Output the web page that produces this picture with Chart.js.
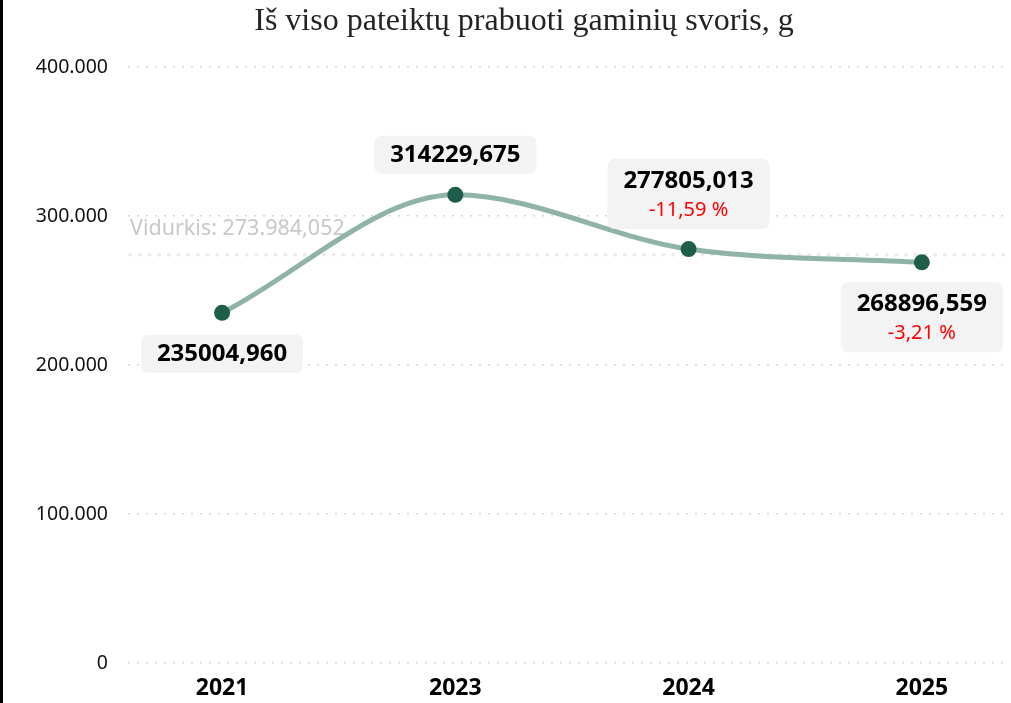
<!DOCTYPE html>
<html lang="lt">
  <head>
    <meta charset="UTF-8" />
    <title>Iš viso pateiktų prabuoti gaminių svoris, g</title>
    <script src="https://cdn.jsdelivr.net/npm/chart.js@4"></script>
    <style>
      body { margin: 0; background: #fff; }
      #wrap { position: relative; width: 1011px; height: 703px; }
      #edge { position: absolute; left: 0; top: 0; width: 3px; height: 703px; background: #000; }
    </style>
  </head>
  <body>
    <div id="wrap">
      <canvas id="myChart"></canvas>
      <div id="edge"></div>
    </div>
    <script>
      const titleText = 'Iš viso pateiktų prabuoti gaminių svoris, g';
      const years = ['2021', '2023', '2024', '2025'];
      const weights = [235004.960, 314229.675, 277805.013, 268896.559];
      const yTicks = [0, 100000, 200000, 300000, 400000];

      const avg = weights.reduce((a, b) => a + b, 0) / weights.length;

      function thousands(v) {
        return String(v).replace(/\B(?=(\d{3})+(?!\d))/g, '.');
      }
      function fmtValue(v) {
        return v.toFixed(3).replace('.', ',');
      }
      function fmtAvg(v) {
        const parts = v.toFixed(3).split('.');
        return thousands(parts[0]) + ',' + parts[1];
      }
      function fmtPct(p) {
        return p.toFixed(2).replace('.', ',') + ' %';
      }

      const FONT = "'Noto Sans', 'Open Sans', sans-serif";

      // title, average line and value boxes
      const extras = {
        id: 'extras',
        beforeDatasetsDraw(chart) {
          const ctx = chart.ctx;
          const area = chart.chartArea;
          const y = chart.scales.y.getPixelForValue(avg);
          ctx.save();
          ctx.strokeStyle = '#ececec';
          ctx.lineWidth = 4;
          ctx.lineCap = 'round';
          ctx.setLineDash([0.1, 9.6]);
          ctx.beginPath();
          ctx.moveTo(area.left + 2, y);
          ctx.lineTo(1008, y);
          ctx.stroke();
          ctx.setLineDash([]);
          ctx.fillStyle = '#c8c8c8';
          ctx.font = '21.5px ' + FONT;
          ctx.textAlign = 'left';
          ctx.textBaseline = 'middle';
          ctx.fillText('Vidurkis: ' + fmtAvg(avg), area.left + 2, y - 26);
          ctx.restore();
        },
        afterDatasetsDraw(chart) {
          const ctx = chart.ctx;
          const pts = chart.getDatasetMeta(0).data;
          const below = [true, false, false, true];
          ctx.save();
          ctx.textAlign = 'center';
          ctx.textBaseline = 'middle';
          pts.forEach((pt, i) => {
            const hasPct = i >= 2;
            const h = hasPct ? 70 : 38;
            const w = 162;
            const cy = below[i] ? pt.y + (hasPct ? 55 : 41) : pt.y - (hasPct ? 55 : 40);
            ctx.fillStyle = '#f3f3f3';
            ctx.beginPath();
            ctx.roundRect(pt.x - w / 2, cy - h / 2, w, h, 7);
            ctx.fill();
            ctx.fillStyle = '#000';
            ctx.font = 'bold 24px ' + FONT;
            const l1 = hasPct ? cy - 13 : cy;
            ctx.fillText(fmtValue(weights[i]), pt.x, l1);
            if (hasPct) {
              const p = (weights[i] / weights[i - 1] - 1) * 100;
              ctx.fillStyle = '#ff0000';
              ctx.font = '20px ' + FONT;
              ctx.fillText(fmtPct(p), pt.x, cy + 16);
            }
          });
          ctx.restore();
        },
        afterDraw(chart) {
          const ctx = chart.ctx;
          ctx.save();
          ctx.fillStyle = '#252423';
          ctx.font = "32px 'Liberation Serif', serif";
          ctx.textAlign = 'center';
          ctx.textBaseline = 'middle';
          ctx.fillText(titleText, 524, 22);
          ctx.restore();
        }
      };

      const ctx = document.getElementById('myChart').getContext('2d');
      const myChart = new Chart(ctx, {
        type: 'line',
        data: {
          datasets: [
            {
              data: weights.map((w, i) => ({ x: i, y: w })),
              borderColor: '#8fb3a5',
              borderWidth: 5,
              cubicInterpolationMode: 'monotone',
              pointRadius: 8,
              pointBackgroundColor: '#1d5e4b',
              pointBorderColor: '#1d5e4b',
              pointBorderWidth: 0,
              fill: false,
              clip: false
            }
          ]
        },
        options: {
          responsive: true,
          maintainAspectRatio: false,
          animation: false,
          layout: { padding: { top: 67, left: 0, right: 0, bottom: 0 } },
          plugins: {
            legend: { display: false },
            tooltip: { enabled: false },
            title: { display: false }
          },
          scales: {
            x: {
              type: 'linear',
              min: -0.4034,
              max: 3.348,
              afterFit: s => { s.height = 40; },
              afterBuildTicks: s => { s.ticks = years.map((y, i) => ({ value: i })); },
              grid: { display: false, drawTicks: false },
              border: { display: false },
              ticks: {
                padding: 12,
                color: '#000',
                font: { family: FONT, size: 23, weight: 'bold' },
                callback: v => years[v] || ''
              }
            },
            y: {
              min: 0,
              max: 400000,
              afterFit: s => { s.width = 128; },
              afterBuildTicks: s => { s.ticks = yTicks.map(v => ({ value: v })); },
              grid: {
                color: '#d6d6d6',
                lineWidth: 1.5,
                drawTicks: false
              },
              border: { display: false, dash: [2, 7] },
              ticks: {
                padding: 20,
                color: '#111',
                font: { family: FONT, size: 19.5 },
                callback: v => thousands(v)
              }
            }
          }
        },
        plugins: [extras]
      });
    </script>
  </body>
</html>
